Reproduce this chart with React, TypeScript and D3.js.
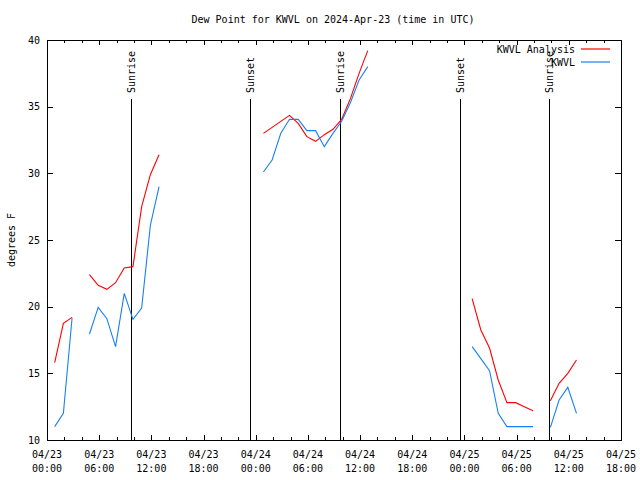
import React, { useEffect, useRef } from 'react';
import * as d3 from 'd3';

// hours after 04/23 00:00 UTC (obs at :53), null = gap in the record
const obsHours = [0, 1, 2, 3, 4, 5, 6, 7, 8, 9, 10, 11, 12, 13,
  24, 25, 26, 27, 28, 29, 30, 31, 32, 33, 34, 35, 36, 37,
  48, 49, 50, 51, 52, 53, 54, 55, 56, 57, 58, 59, 60];
const analysisDew = [15.8, 18.75, 19.2, null, 22.4, 21.6, 21.3, 21.8, 22.9, 23.0, 27.5, 29.9, 31.4, null,
  33.0, 33.45, 33.9, 34.35, 33.75, 32.75, 32.4, 32.9, 33.3, 34.05, 35.6, 37.5, 39.2, null,
  20.6, 18.25, 16.9, 14.5, 12.8, 12.8, 12.5, 12.2, null, 12.95, 14.25, 15.0, 16.0];
const observedDew = [11.0, 12.0, 19.15, null, 17.95, 19.95, 19.1, 17.0, 21.0, 19.05, 19.9, 26.1, 29.0, null,
  30.1, 31.0, 33.0, 34.05, 34.05, 33.2, 33.2, 32.0, 33.0, 33.9, 35.3, 37.0, 38.0, null,
  17.0, 16.1, 15.2, 12.0, 11.0, 11.0, 11.0, 11.0, null, 10.95, 13.0, 13.95, 12.0];

const sunEvents = [
  { hour: 9.65, label: 'Sunrise' },
  { hour: 23.35, label: 'Sunset' },
  { hour: 33.65, label: 'Sunrise' },
  { hour: 47.45, label: 'Sunset' },
  { hour: 57.7, label: 'Sunrise' },
];

const xTickDays = ['04/23', '04/23', '04/23', '04/23', '04/24', '04/24', '04/24', '04/24', '04/25', '04/25', '04/25', '04/25'];
const xTickTimes = ['00:00', '06:00', '12:00', '18:00', '00:00', '06:00', '12:00', '18:00', '00:00', '06:00', '12:00', '18:00'];
const yTicks = [10, 15, 20, 25, 30, 35, 40];

const series = [
  { name: 'KWVL Analysis', values: analysisDew, color: '#ff0000' },
  { name: 'KWVL', values: observedDew, color: '#1a80f0' },
];

const App: React.FC = () => {
  const svgRef = useRef<SVGSVGElement>(null);

  const width = 640;
  const height = 480;
  const margin = { top: 40, right: 19, bottom: 40, left: 47 };
  const font = '"DejaVu Sans Mono", monospace';

  useEffect(() => {
    if (!svgRef.current) return;
    d3.select(svgRef.current).selectAll('*').remove();

    const svg = d3.select(svgRef.current)
      .attr('width', width)
      .attr('height', height)
      .attr('font-family', font)
      .attr('font-size', 10);

    svg.append('rect').attr('width', width).attr('height', height).attr('fill', '#fff');

    const x = d3.scaleLinear().domain([0, 66]).range([margin.left, width - margin.right]);
    const y = d3.scaleLinear().domain([10, 40]).range([height - margin.bottom, margin.top]);
    const px = (v: number) => Math.round(v) + 0.5;

    // title
    svg.append('text')
      .attr('x', 333).attr('y', 23)
      .attr('text-anchor', 'middle')
      .text('Dew Point for KWVL on 2024-Apr-23 (time in UTC)');

    // y label
    svg.append('text')
      .attr('transform', `translate(15,${(margin.top + height - margin.bottom) / 2}) rotate(-90)`)
      .attr('text-anchor', 'middle')
      .text('degrees F');

    // y ticks + labels
    const yAxis = svg.append('g').attr('shape-rendering', 'crispEdges');
    yTicks.forEach(t => {
      yAxis.append('line').attr('x1', x(0)).attr('x2', x(0) + 6).attr('y1', px(y(t))).attr('y2', px(y(t))).attr('stroke', '#000');
      yAxis.append('line').attr('x1', x(66)).attr('x2', x(66) - 6).attr('y1', px(y(t))).attr('y2', px(y(t))).attr('stroke', '#000');
      yAxis.append('text')
        .attr('x', x(0) - 7).attr('y', y(t)).attr('dy', '0.35em')
        .attr('text-anchor', 'end')
        .text(t);
    });

    // x ticks (major 6h, minor 2h)
    const xAxis = svg.append('g');
    d3.range(0, 67, 2).forEach(h => {
      const len = h % 6 === 0 ? 5 : 3;
      xAxis.append('line').attr('shape-rendering', 'crispEdges')
        .attr('x1', px(x(h))).attr('x2', px(x(h))).attr('y1', y(10)).attr('y2', y(10) - len).attr('stroke', '#000');
      xAxis.append('line').attr('shape-rendering', 'crispEdges')
        .attr('x1', px(x(h))).attr('x2', px(x(h))).attr('y1', y(40)).attr('y2', y(40) + len).attr('stroke', '#000');
    });
    xTickDays.forEach((d, i) => {
      const tx = x(i * 6);
      xAxis.append('text').attr('x', tx).attr('y', 458).attr('text-anchor', 'middle').text(d);
      xAxis.append('text').attr('x', tx).attr('y', 472).attr('text-anchor', 'middle').text(xTickTimes[i]);
    });

    // sunrise / sunset markers
    const sun = svg.append('g');
    sunEvents.forEach(ev => {
      sun.append('line')
        .attr('shape-rendering', 'crispEdges')
        .attr('x1', px(x(ev.hour))).attr('x2', px(x(ev.hour)))
        .attr('y1', 99).attr('y2', y(10))
        .attr('stroke', '#000');
      sun.append('text')
        .attr('transform', `translate(${x(ev.hour) + 4},93) rotate(-90)`)
        .attr('text-anchor', 'start')
        .text(ev.label);
    });

    // series lines
    series.forEach(s => {
      const pts = obsHours.map((h, i) => ({ h: h + 53 / 60, v: s.values[i] }));
      const line = d3.line<{ h: number; v: number | null }>()
        .defined(d => d.v !== null)
        .x(d => x(d.h))
        .y(d => y(d.v as number));
      svg.append('path')
        .datum(pts)
        .attr('fill', 'none')
        .attr('stroke', s.color)
        .attr('stroke-width', 1.1)
        .attr('d', line);
    });

    // legend
    const legend = svg.append('g');
    series.forEach((s, i) => {
      const ly = 49 + i * 13;
      legend.append('text')
        .attr('x', 575).attr('y', ly).attr('dy', '0.35em')
        .attr('text-anchor', 'end')
        .text(s.name);
      legend.append('line')
        .attr('x1', 581).attr('x2', 610)
        .attr('y1', ly).attr('y2', ly)
        .attr('stroke', s.color)
        .attr('stroke-width', 1.2);
    });

    // frame
    svg.append('rect')
      .attr('shape-rendering', 'crispEdges')
      .attr('x', px(x(0))).attr('y', px(y(40)))
      .attr('width', Math.round(x(66) - x(0))).attr('height', Math.round(y(10) - y(40)))
      .attr('fill', 'none')
      .attr('stroke', '#000');
  }, []);

  return (
    <svg ref={svgRef} style={{ position: 'absolute', left: 0, top: 0 }} />
  );
};

export default App;
